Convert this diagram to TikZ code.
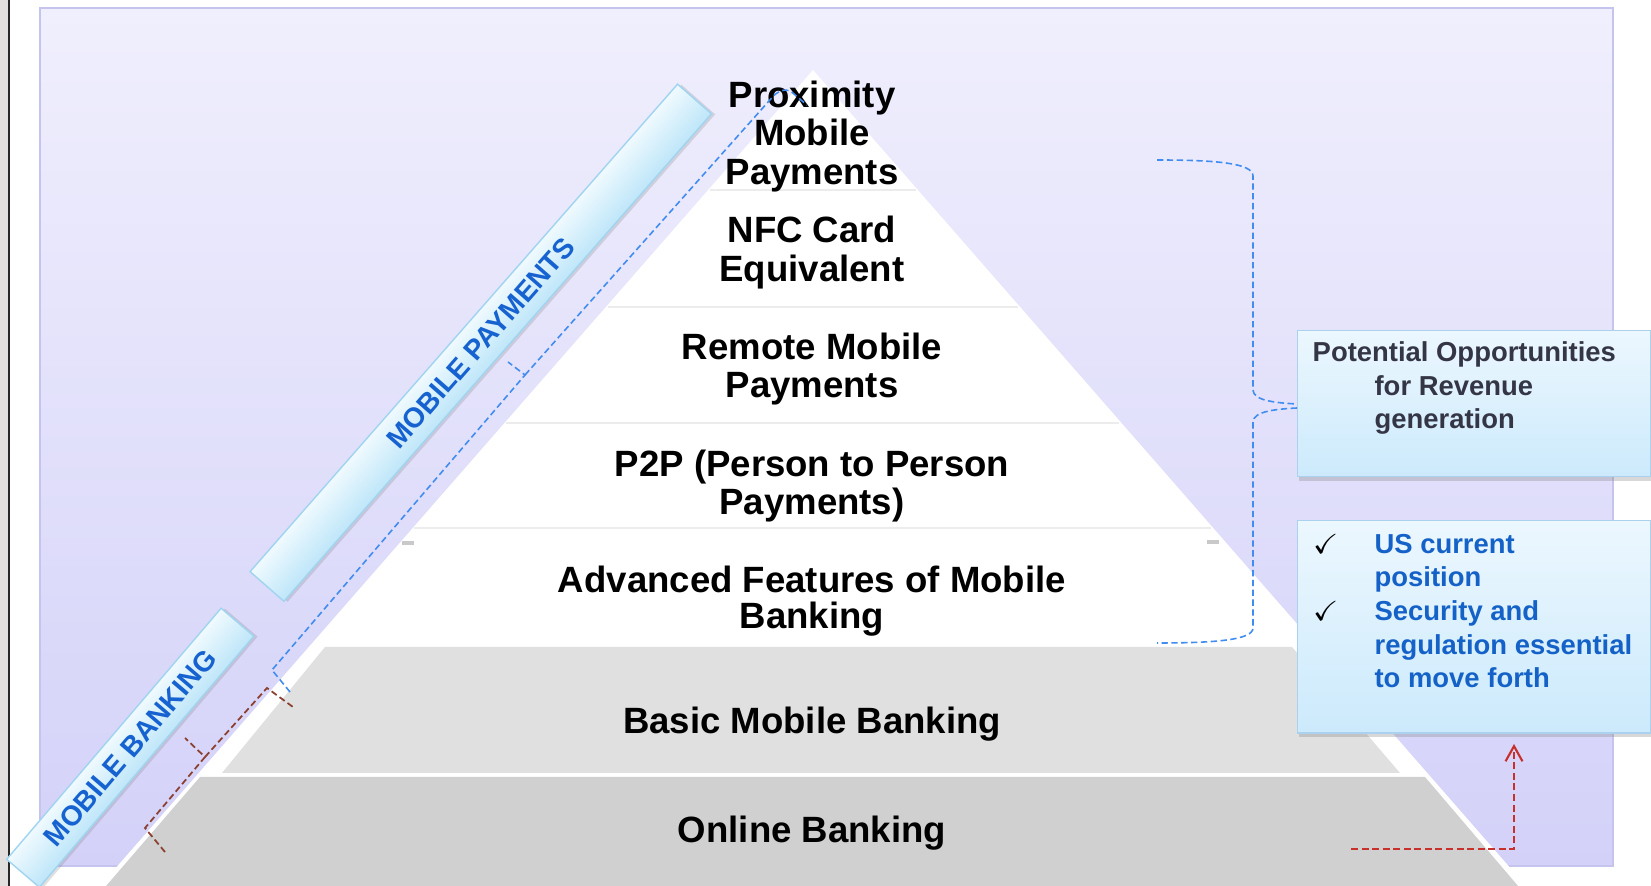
\documentclass[tikz,border=0pt]{standalone}
\usepackage{fontspec}
\setmainfont{Liberation Sans}
\usepackage{amssymb}
\usetikzlibrary{arrows.meta,shadows}

\definecolor{panelTop}{RGB}{240,239,253}
\definecolor{panelBot}{RGB}{211,209,248}
\definecolor{panelEdge}{RGB}{196,196,238}
\definecolor{layerA}{RGB}{224,224,224}
\definecolor{layerB}{RGB}{208,208,208}
\definecolor{sepline}{RGB}{236,236,236}
\definecolor{bannerTop}{RGB}{240,250,254}
\definecolor{bannerBot}{RGB}{190,230,249}
\definecolor{bannerEdge}{RGB}{160,212,240}
\definecolor{bannerText}{RGB}{22,98,208}
\definecolor{boxTop}{RGB}{236,247,254}
\definecolor{boxBot}{RGB}{204,234,252}
\definecolor{boxEdge}{RGB}{170,210,238}
\definecolor{boxText}{RGB}{52,54,70}
\definecolor{boxBlue}{RGB}{20,98,200}
\definecolor{braceBlue}{RGB}{64,140,240}
\definecolor{braceBrown}{RGB}{140,64,48}
\definecolor{arrowRed}{RGB}{200,48,44}
\definecolor{stripGray}{RGB}{226,222,222}

\begin{document}
\begin{tikzpicture}[x=0.01cm,y=-0.01cm,
  layertext/.style={font=\fontsize{10.4}{10.9}\selectfont\bfseries, align=center, inner sep=0pt, text=black},
  banner/.style={draw=bannerEdge, line width=0.4pt, top color=bannerTop, bottom color=bannerBot,
    inner sep=0pt, font=\fontsize{8}{9}\selectfont\bfseries, text=bannerText,
    drop shadow={shadow xshift=0.6pt, shadow yshift=-0.9pt, opacity=0.25}},
  infobox/.style={draw=boxEdge, line width=0.4pt, top color=boxTop, bottom color=boxBot, inner sep=0pt,
    anchor=north west, drop shadow={shadow xshift=0.5pt, shadow yshift=-1.2pt, opacity=0.3}},
  boxtext/.style={font=\fontsize{7.8}{9.55}\selectfont\bfseries, align=left, inner sep=0pt, anchor=north west},
  bluedash/.style={draw=braceBlue, line width=0.45pt, dash pattern=on 1.8pt off 1pt},
  browndash/.style={draw=braceBrown, line width=0.5pt, dash pattern=on 1.8pt off 1pt},
  reddash/.style={draw=arrowRed, line width=0.6pt, dash pattern=on 2pt off 1pt},
]
\useasboundingbox (0,0) rectangle (1651,886);
\fill[white] (0,0) rectangle (1651,886);

% left page edge
\fill[stripGray] (0,0) rectangle (7.5,886);
\fill[black!85] (7.5,0) rectangle (9.5,886);

% background panel
\shade[top color=panelTop, bottom color=panelBot, draw=panelEdge, line width=0.4pt] (40,8) rectangle (1613,866);

% pyramid body (white)
\fill[white] (813,70) -- (1526,886) -- (100,886) -- cycle;
% faint separators of the upper white layers
\draw[sepline, line width=0.6pt] (710,190) -- (916,190);
\draw[sepline, line width=0.6pt] (608,307) -- (1018,307);
\draw[sepline, line width=0.6pt] (506,423) -- (1119,423);
\draw[sepline, line width=0.6pt] (414,528) -- (1211,528);
\fill[gray!70, opacity=0.6] (402,541) rectangle (414,545);
\fill[gray!70, opacity=0.6] (1207,540) rectangle (1219,544);

% grey layers
\fill[layerA] (325,647) -- (1292,647) -- (1400,773) -- (222,773) -- cycle;
\fill[layerB] (200,777) -- (1425,777) -- (1530,900) -- (94,900) -- cycle;

% side banners (shading follows the banner's own direction)
\begin{scope}[transform canvas={shift={(480.75,342.75)}, rotate=48.75}]
  \node[banner, minimum width=6.48cm, minimum height=0.45cm] (mp) at (0,0) {MOBILE PAYMENTS};
\end{scope}
\begin{scope}[transform canvas={shift={(130.25,747.75)}, rotate=49.5}]
  \node[banner, minimum width=3.30cm, minimum height=0.43cm] (mb) at (0,0) {MOBILE BANKING};
\end{scope}

% pyramid labels
\node[layertext] (prox) at (812,136.5) {Proximity\\Mobile\\Payments};
\node[layertext] (nfc) at (812,252.5) {NFC Card\\Equivalent};
\node[layertext] (remote) at (812,369) {Remote Mobile\\Payments};
\node[layertext] (p2p) at (812,486) {P2P (Person to Person\\Payments)};
\node[layertext] (adv) at (812,601.5) {Advanced Features of Mobile\\[-0.6pt]Banking};
\node[layertext] (basic) at (812,724.5) {Basic Mobile Banking};
\node[layertext] (online) at (812,833.5) {Online Banking};

% bracket: mobile payments
\coordinate (mpLow) at (290,692);
\coordinate (mpHigh) at (807,105);
\draw[bluedash] (mpLow) -- (272,670) -- (525,375) -- (508,362);
\draw[bluedash, rounded corners=1.5pt] (525,375) -- (777,92) -- (788,89) -- (mpHigh);

% bracket: mobile banking
\coordinate (mbLow) at (165,852);
\coordinate (mbHigh) at (293,707);
\draw[browndash] (mbLow) -- (145,828) -- (205,757) -- (185,738);
\draw[browndash] (205,757) -- (267,688) -- (mbHigh);

% right boxes
\node[infobox, minimum width=3.53cm, minimum height=1.46cm] (opp) at (1297,330) {};
\node[infobox, minimum width=3.53cm, minimum height=2.12cm] (us) at (1297,520) {};
\node[boxtext, text=boxText] (opptext) at (1312,341)
  {Potential Opportunities\\\hspace*{17.6pt}for Revenue\\\hspace*{17.6pt}generation};
\node[boxtext, text=boxBlue] (ustext) at (1312,533.5)
  {\makebox[17.6pt][l]{\textcolor{black}{\normalfont$\checkmark$}}US current\\
   \hspace*{17.6pt}position\\
   \makebox[17.6pt][l]{\textcolor{black}{\normalfont$\checkmark$}}Security and\\
   \hspace*{17.6pt}regulation essential\\
   \hspace*{17.6pt}to move forth};

% right brace to the opportunities box
\coordinate (brTop) at (1157,160);
\coordinate (brBot) at (1157,643);
\draw[bluedash] (brTop) .. controls (1215,160) and (1253,163) .. (1253,176)
  -- (1253,390) .. controls (1253,401) and (1278,403) .. (opp.west |- 0,404);
\draw[bluedash] (opp.west |- 0,408) .. controls (1278,409) and (1253,411) .. (1253,422)
  -- (1253,628) .. controls (1253,640) and (1215,643) .. (brBot);

% red arrow to the status box
\coordinate (redStart) at (1351,849);
\draw[reddash, -{Straight Barb[length=4.3pt,width=4.8pt]}] (redStart) -- (1514,849) -- (1514,744);
\end{tikzpicture}
\end{document}
